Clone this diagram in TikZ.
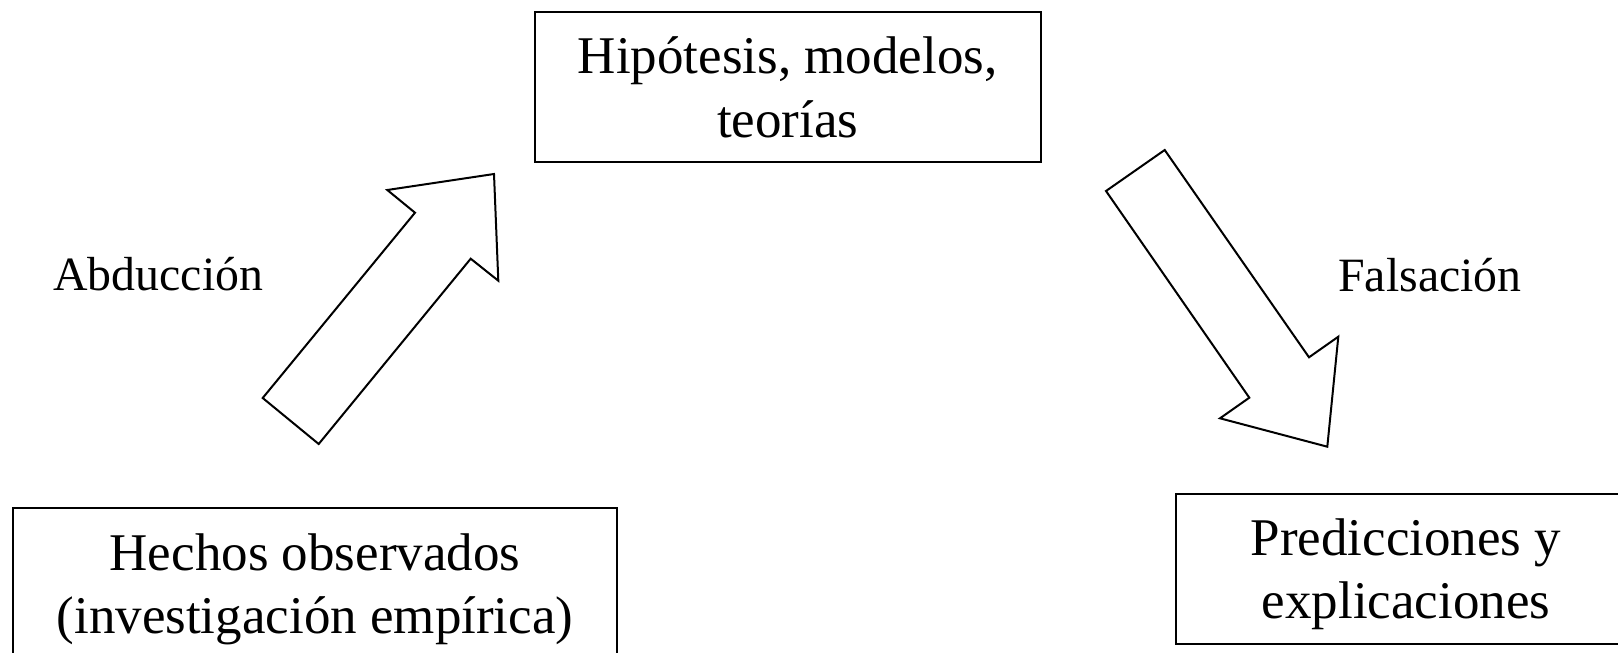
\documentclass[tikz,border=0pt]{standalone}
\usepackage{fontspec}
\setmainfont{Liberation Serif}
\begin{document}
\begin{tikzpicture}[x=0.5pt,y=-0.5pt,
  box/.style={draw=black,line width=1pt,inner sep=0pt,fill=none},
  boxtext/.style={anchor=base,inner sep=0pt,font=\fontsize{26.5}{31.5}\selectfont},
  steplabel/.style={anchor=base,inner sep=0pt,font=\fontsize{23.9}{28}\selectfont},
  blockarrow/.style={draw=black,line width=1pt,line join=miter,fill=white}]
\useasboundingbox (0,0) rectangle (1618,653);

% boxes
\node[box,minimum width=253pt,minimum height=74.85pt] (hyp) at (787.7,86.85) {};
\node[box,minimum width=301.7pt,minimum height=74.85pt] (obs) at (315,583.15) {};
\node[box,minimum width=230pt,minimum height=75pt] (pred) at (1406,569) {};

% box texts, one node per line
\node[boxtext] (hyp1) at (787.7,73.3) {Hipótesis, modelos,};
\node[boxtext] (hyp2) at (787.7,137.7) {teorías};
\node[boxtext] (obs1) at (315,570) {Hechos observados};
\node[boxtext] (obs2) at (315,633) {(investigación empírica)};
\node[boxtext] (pred1) at (1406,555) {Predicciones y};
\node[boxtext] (pred2) at (1406,618) {explicaciones};

% labels of the two steps
\node[steplabel] (abd) at (158.3,290) {Abducción};
\node[steplabel] (fal) at (1430,291.7) {Falsación};

% block arrows
\draw[blockarrow] (262.7,398) -- (415,212.7) -- (387.3,190) -- (494,174)
  -- (498.3,280.7) -- (470.7,258.7) -- (318.7,444) -- cycle;
\draw[blockarrow] (1106,191) -- (1164.7,150) -- (1309,357.3) -- (1338.3,336.7)
  -- (1327.3,446.7) -- (1220,418.3) -- (1249.3,397.7) -- cycle;
\end{tikzpicture}
\end{document}
